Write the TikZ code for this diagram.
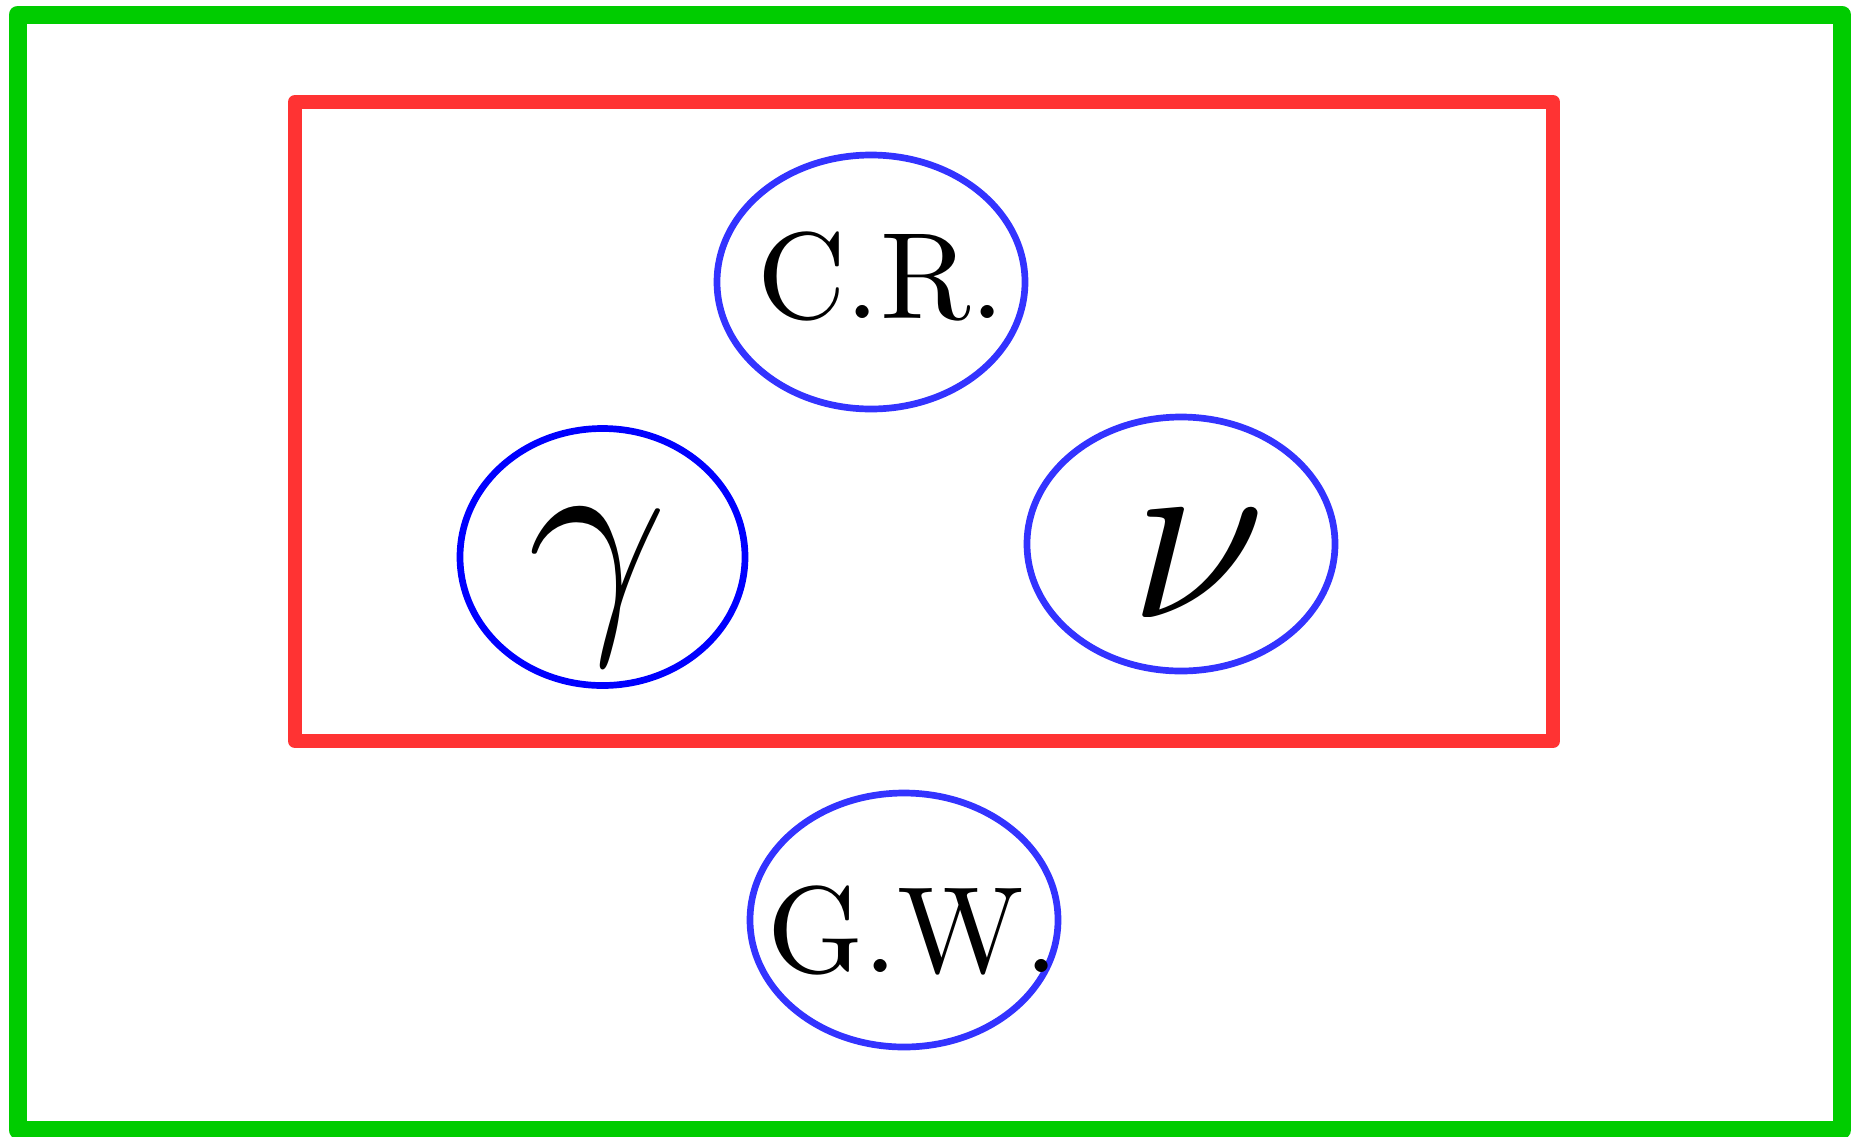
\documentclass[tikz,border=0pt]{standalone}
\DeclareFontShape{OML}{cmm}{m}{it}{<-> cmmi12}{}
\DeclareFontShape{OT1}{cmr}{m}{n}{<-> cmr10}{}
\usetikzlibrary{shapes.geometric}
\definecolor{gframe}{RGB}{0,204,0}
\definecolor{rframe}{RGB}{255,51,51}
\definecolor{lblue}{RGB}{51,51,255}
\definecolor{dblue}{RGB}{0,0,255}
\tikzset{
  blob/.style={ellipse, draw=lblue, line width=6.7pt, inner sep=0pt,
    minimum width=308pt, minimum height=254pt},
  txt/.style={anchor=base, inner sep=0pt,
    font=\fontencoding{OT1}\fontfamily{cmr}\fontsize{123}{140}\selectfont},
  sym/.style={anchor=base, inner sep=0pt, font=\fontsize{250}{290}\selectfont},
}
\begin{document}
\begin{tikzpicture}[x=1pt,y=-1pt]
\useasboundingbox (0,0) rectangle (1863,1136);
\draw[gframe, line width=18pt, line join=round] (17.5,14.5) rectangle (1842,1130);
\draw[rframe, line width=14pt, line join=round] (295,102) rectangle (1553,741);
\node[blob] (cr) at (871,282) {};
\node[blob, draw=dblue, minimum width=285pt, minimum height=257pt] (ga) at (602.5,557) {};
\node[blob] (nu) at (1181,544) {};
\node[blob] (gw) at (904,920) {};
\node[txt] (crt) at (881,318) {C.R.};
\node[txt] (gwt) at (913,972.7) {G.W.};
\node[sym] (gat) at (598,616) {$\gamma$};
\node[sym] (nut) at (1198,617) {$\nu$};
\end{tikzpicture}
\end{document}
